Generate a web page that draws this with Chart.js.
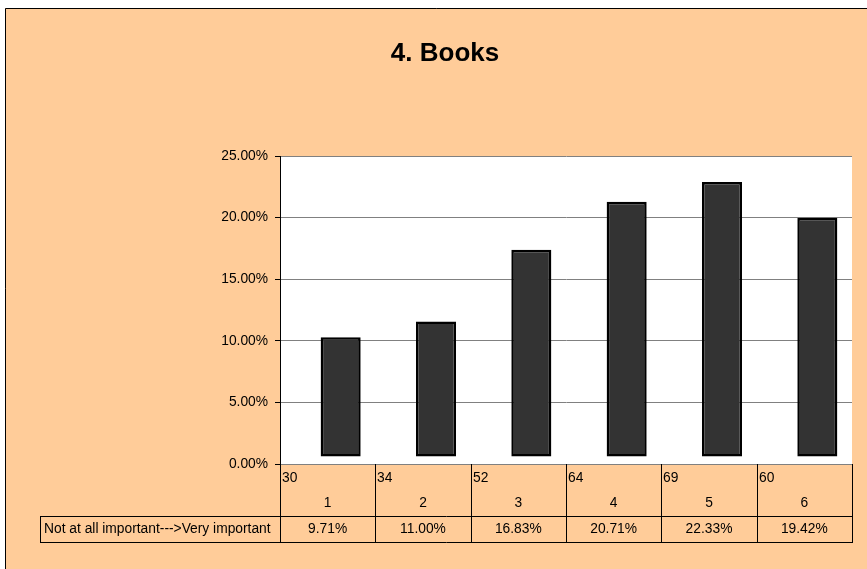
<!DOCTYPE html>
<html>
<head>
<meta charset="utf-8">
<style>
  html, body { margin: 0; background: #fff; overflow: hidden; }
  canvas { display: block; }
</style>
</head>
<body>
<canvas id="chart1" width="867" height="569"></canvas>
<script src="https://cdn.jsdelivr.net/npm/chart.js@4/dist/chart.umd.min.js"></script>
<script>
const categories = ['1', '2', '3', '4', '5', '6']
const counts = [30, 34, 52, 64, 69, 60]
const shares = [9.71, 11.0, 16.83, 20.71, 22.33, 19.42]
const yTicks = [0, 5, 10, 15, 20, 25]
const rowLabel = 'Not at all important--->Very important'
const titleText = '4. Books'

const FONT = "'Liberation Sans', Arial, sans-serif"
const PEACH = '#FFCC99'
const TXT = 13.8

// peach frame, white plot area, title
const frame = {
  id: 'frame',
  beforeDraw(chart) {
    const { ctx, width, height, chartArea: a } = chart
    ctx.save()
    ctx.fillStyle = '#fff'
    ctx.fillRect(0, 0, width, height)
    ctx.fillStyle = PEACH
    ctx.fillRect(5, 8, width, height)
    ctx.strokeStyle = '#000'
    ctx.lineWidth = 1
    ctx.beginPath()
    ctx.moveTo(5.5, height)
    ctx.lineTo(5.5, 8.5)
    ctx.lineTo(width, 8.5)
    ctx.stroke()
    ctx.fillStyle = '#fff'
    ctx.fillRect(a.left, a.top, a.right - a.left, a.bottom - a.top)
    ctx.fillStyle = '#000'
    ctx.font = 'bold 26px ' + FONT
    ctx.textAlign = 'center'
    ctx.textBaseline = 'middle'
    ctx.fillText(titleText, 445, 54)
    ctx.restore()
  }
}

// excel-style depth offset of the columns
const depth = {
  id: 'depth',
  beforeDatasetDraw(chart) {
    chart.ctx.save()
    chart.ctx.translate(13, -7)
  },
  afterDatasetDraw(chart) {
    chart.ctx.restore()
  }
}

// data table under the plot
const table = {
  id: 'table',
  afterDraw(chart) {
    const { ctx, chartArea: a, scales: { x } } = chart
    const half = (a.right - a.left) / categories.length / 2
    const r0 = a.bottom
    const r1 = r0 + 52
    const r2 = r1 + 26
    const left = 40
    ctx.save()
    ctx.strokeStyle = '#000'
    ctx.lineWidth = 1
    ctx.beginPath()
    for (let i = 0; i <= categories.length; i++) {
      const px = Math.round(i < categories.length ? x.getPixelForValue(i) - half : a.right) + 0.5
      ctx.moveTo(px, r0)
      ctx.lineTo(px, r2)
    }
    ctx.moveTo(left + 0.5, r1)
    ctx.lineTo(left + 0.5, r2)
    ctx.moveTo(left, r1 + 0.5)
    ctx.lineTo(a.right + 1, r1 + 0.5)
    ctx.moveTo(left, r2 + 0.5)
    ctx.lineTo(a.right + 1, r2 + 0.5)
    ctx.stroke()

    ctx.fillStyle = '#000'
    ctx.font = TXT + 'px ' + FONT
    ctx.textBaseline = 'middle'
    categories.forEach((c, i) => {
      const cx = x.getPixelForValue(i)
      ctx.textAlign = 'left'
      ctx.fillText(String(counts[i]), Math.round(cx - half) + 2, r0 + 14)
      ctx.textAlign = 'center'
      ctx.fillText(c, cx, r0 + 39)
      ctx.fillText(shares[i].toFixed(2) + '%', cx, r1 + 13)
    })
    ctx.textAlign = 'left'
    ctx.fillText(rowLabel, left + 4, r1 + 13)
    ctx.restore()
  }
}

new Chart(document.getElementById('chart1'), {
  type: 'bar',
  data: {
    labels: categories,
    datasets: [
      {
        data: shares,
        backgroundColor: '#333333',
        borderColor: '#000',
        borderWidth: 2.5,
        borderSkipped: false,
        barPercentage: 0.42,
        categoryPercentage: 1,
        clip: false
      }
    ]
  },
  plugins: [frame, depth, table],
  options: {
    responsive: false,
    animation: false,
    events: [],
    layout: {
      padding: { left: 0, right: 15, top: 156, bottom: 105 }
    },
    plugins: {
      legend: { display: false },
      title: { display: false },
      tooltip: { enabled: false }
    },
    scales: {
      x: {
        display: false
      },
      y: {
        min: 0,
        max: 25,
        afterFit(scale) {
          scale.width = 280
        },
        afterBuildTicks(scale) {
          scale.ticks = yTicks.map(v => ({ value: v }))
        },
        border: { display: true, color: '#000', width: 1 },
        grid: {
          color: '#808080',
          tickColor: '#000',
          tickLength: 5,
          lineWidth: 1
        },
        ticks: {
          padding: 7,
          color: '#000',
          font: { family: FONT, size: TXT },
          callback: v => v.toFixed(2) + '%'
        }
      }
    }
  }
})
</script>
</body>
</html>
